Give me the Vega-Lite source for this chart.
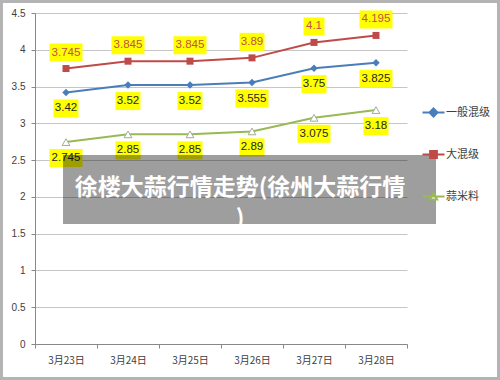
{
  "$schema": "https://vega.github.io/schema/vega-lite/v6.json",
  "width": 372,
  "height": 331,
  "autosize": "none",
  "padding": {"left": 35, "top": 13, "right": 93, "bottom": 36},
  "background": "#ffffff",
  "datasets": {
    "prices": [
      {"date": "3月23日", "series": "一般混级", "v": 3.42},
      {"date": "3月24日", "series": "一般混级", "v": 3.52},
      {"date": "3月25日", "series": "一般混级", "v": 3.52},
      {"date": "3月26日", "series": "一般混级", "v": 3.555},
      {"date": "3月27日", "series": "一般混级", "v": 3.75},
      {"date": "3月28日", "series": "一般混级", "v": 3.825},
      {"date": "3月23日", "series": "大混级", "v": 3.745},
      {"date": "3月24日", "series": "大混级", "v": 3.845},
      {"date": "3月25日", "series": "大混级", "v": 3.845},
      {"date": "3月26日", "series": "大混级", "v": 3.89},
      {"date": "3月27日", "series": "大混级", "v": 4.1},
      {"date": "3月28日", "series": "大混级", "v": 4.195},
      {"date": "3月23日", "series": "蒜米料", "v": 2.745},
      {"date": "3月24日", "series": "蒜米料", "v": 2.85},
      {"date": "3月25日", "series": "蒜米料", "v": 2.85},
      {"date": "3月26日", "series": "蒜米料", "v": 2.89},
      {"date": "3月27日", "series": "蒜米料", "v": 3.075},
      {"date": "3月28日", "series": "蒜米料", "v": 3.18}
    ],
    "overlay": [
      {"title": "徐楼大蒜行情走势(徐州大蒜行情\n)"}
    ]
  },
  "layer": [
    {
      "data": {"name": "prices"},
      "encoding": {
        "x": {
          "field": "date", "type": "nominal", "sort": null, "title": null,
          "scale": {"type": "band", "paddingInner": 0, "paddingOuter": 0},
          "axis": {"tickBand": "extent", "grid": false, "labelAngle": 0, "domainColor": "#888888", "tickColor": "#888888", "tickSize": 4, "labelPadding": 7, "labelFont": "Noto Sans CJK SC", "labelFontSize": 10, "labelColor": "#404040"}
        },
        "y": {
          "field": "v", "type": "quantitative", "title": null,
          "scale": {"domain": [0, 4.5]},
          "axis": {"values": [0, 0.5, 1, 1.5, 2, 2.5, 3, 3.5, 4, 4.5], "format": "~g", "grid": true, "gridColor": "#c6c6c6", "domainColor": "#888888", "tickColor": "#888888", "tickSize": 4, "labelPadding": 6, "labelFont": "Liberation Sans", "labelFontSize": 10, "labelColor": "#404040"}
        }
      },
      "layer": [
        {
          "transform": [{"filter": "datum.series == '一般混级'"}],
          "mark": {"type": "line", "strokeWidth": 2, "color": "#4A7EBB"}
        },
        {
          "transform": [{"filter": "datum.series == '大混级'"}],
          "mark": {"type": "line", "strokeWidth": 2, "color": "#BE4B48"}
        },
        {
          "transform": [{"filter": "datum.series == '蒜米料'"}],
          "mark": {"type": "line", "strokeWidth": 2, "color": "#98B954"}
        },
        {
          "transform": [{"filter": "datum.series == '一般混级'"}],
          "mark": {"type": "point", "shape": "diamond", "filled": true, "color": "#4A7EBB", "size": 56, "opacity": 1}
        },
        {
          "transform": [{"filter": "datum.series == '大混级'"}],
          "mark": {"type": "point", "shape": "square", "filled": true, "color": "#BE4B48", "size": 49, "opacity": 1}
        },
        {
          "transform": [{"filter": "datum.series == '蒜米料'"}],
          "mark": {"type": "point", "shape": "triangle-up", "filled": true, "fill": "#ffffff", "stroke": "#a3ab96", "strokeWidth": 1, "size": 60, "opacity": 1}
        },
        {
          "transform": [{"filter": "datum.series == '大混级' && length(toString(datum.v)) == 3"}],
          "mark": {"type": "point", "shape": "M-10.5,-25H10.5V-7H-10.5Z", "size": 4, "filled": true, "color": "#FFFF00", "opacity": 1}
        },
        {
          "transform": [{"filter": "datum.series == '大混级' && length(toString(datum.v)) == 4"}],
          "mark": {"type": "point", "shape": "M-12.5,-25H12.5V-7H-12.5Z", "size": 4, "filled": true, "color": "#FFFF00", "opacity": 1}
        },
        {
          "transform": [{"filter": "datum.series == '大混级' && length(toString(datum.v)) == 5"}],
          "mark": {"type": "point", "shape": "M-16.5,-25H16.5V-7H-16.5Z", "size": 4, "filled": true, "color": "#FFFF00", "opacity": 1}
        },
        {
          "transform": [{"filter": "datum.series != '大混级' && length(toString(datum.v)) == 4"}],
          "mark": {"type": "point", "shape": "M-12.5,7H12.5V25H-12.5Z", "size": 4, "filled": true, "color": "#FFFF00", "opacity": 1}
        },
        {
          "transform": [{"filter": "datum.series != '大混级' && length(toString(datum.v)) == 5"}],
          "mark": {"type": "point", "shape": "M-16.5,7H16.5V25H-16.5Z", "size": 4, "filled": true, "color": "#FFFF00", "opacity": 1}
        },
        {
          "transform": [{"filter": "datum.series == '大混级'"}],
          "mark": {"type": "text", "dy": -16, "font": "Liberation Sans", "fontSize": 11.5, "color": "#C0504D", "baseline": "middle"},
          "encoding": {"text": {"field": "v", "type": "nominal"}}
        },
        {
          "transform": [{"filter": "datum.series != '大混级'"}],
          "mark": {"type": "text", "dy": 16, "font": "Liberation Sans", "fontSize": 11.5, "color": "#262626", "baseline": "middle"},
          "encoding": {"text": {"field": "v", "type": "nominal"}}
        },
        {
          "transform": [{"filter": "datum.v < 0"}],
          "mark": {"type": "point", "filled": true, "size": 64},
          "encoding": {
            "stroke": {"field": "series", "type": "nominal", "title": null,
              "scale": {"domain": ["一般混级", "大混级", "蒜米料"], "range": ["#4A7EBB", "#BE4B48", "#98B954"]},
              "legend": {"orient": "none", "legendX": 393, "legendY": 94, "rowPadding": 26, "symbolSize": 64, "symbolStrokeWidth": 2, "symbolOpacity": 1, "labelFont": "Noto Sans CJK SC", "labelFontSize": 11, "labelColor": "#404040", "labelOffset": 7, "padding": 0}},
            "fill": {"field": "series", "type": "nominal", "title": null,
              "scale": {"domain": ["一般混级", "大混级", "蒜米料"], "range": ["#4A7EBB", "#BE4B48", "#ffffff"]},
              "legend": {"orient": "none", "legendX": 393, "legendY": 94, "rowPadding": 26, "symbolSize": 64, "symbolStrokeWidth": 2, "symbolOpacity": 1, "labelFont": "Noto Sans CJK SC", "labelFontSize": 11, "labelColor": "#404040", "labelOffset": 7, "padding": 0}},
            "shape": {"field": "series", "type": "nominal", "title": null,
              "scale": {"domain": ["一般混级", "大混级", "蒜米料"], "range": ["M-2.75,0H2.75M0,-1L1,0L0,1L-1,0Z", "M-2.75,0H2.75M-0.85,-0.85H0.85V0.85H-0.85Z", "M-2.75,0H2.75M0,-0.9L0.9,0.75H-0.9Z"]},
              "legend": {"orient": "none", "legendX": 393, "legendY": 94, "rowPadding": 26, "symbolSize": 64, "symbolStrokeWidth": 2, "symbolOpacity": 1, "labelFont": "Noto Sans CJK SC", "labelFontSize": 11, "labelColor": "#404040", "labelOffset": 7, "padding": 0}}
          }
        }
      ]
    },
    {
      "data": {"name": "overlay"},
      "layer": [
        {
          "mark": {"type": "rect", "color": "#000000", "opacity": 0.38},
          "encoding": {
            "x": {"datum": 0.0753, "type": "quantitative", "scale": {"domain": [0, 1]}, "axis": null},
            "x2": {"datum": 1.078},
            "y": {"datum": 0.3625, "type": "quantitative", "scale": {"domain": [0, 1]}, "axis": null},
            "y2": {"datum": 0.571}
          }
        },
        {
          "mark": {"type": "text", "font": "Noto Sans CJK SC", "fontSize": 23, "fontWeight": "bold", "color": "#ffffff", "lineBreak": "\n", "lineHeight": 31, "align": "center", "baseline": "middle"},
          "encoding": {
            "x": {"datum": 0.5511, "type": "quantitative", "scale": {"domain": [0, 1]}, "axis": null},
            "y": {"datum": 0.4728, "type": "quantitative", "scale": {"domain": [0, 1]}, "axis": null},
            "text": {"field": "title", "type": "nominal"}
          }
        },
        {
          "mark": {"type": "rect", "filled": false, "color": "#b4b4b4", "strokeWidth": 3, "opacity": 1},
          "encoding": {
            "x": {"datum": -0.0901, "type": "quantitative", "scale": {"domain": [0, 1]}, "axis": null},
            "x2": {"datum": 1.246},
            "y": {"datum": -0.1042, "type": "quantitative", "scale": {"domain": [0, 1]}, "axis": null},
            "y2": {"datum": 1.0347}
          }
        }
      ]
    }
  ],
  "resolve": {"scale": {"x": "independent", "y": "independent"}},
  "config": {
    "view": {"stroke": null}
  }
}
